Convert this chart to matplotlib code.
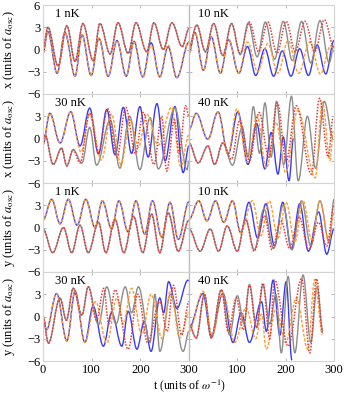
import matplotlib
matplotlib.use('Agg')
import matplotlib.pyplot as plt
from matplotlib.path import Path
from matplotlib.patches import PathPatch

plt.rcParams['font.family'] = ['Liberation Serif', 'DejaVu Serif']
plt.rcParams['mathtext.fontset'] = 'stix'

# extrema: (t, value) pairs, one list per trace
# --- x, 1 nK
x1_red = [(0, 0), (10, 3.0), (31, -2.2), (49, 3.2), (66, -1.6), (82, 3.5), (103, -1.5), (117, 3.5), (138, -0.6),
          (154, 3.6), (175, -0.5), (191, 3.6), (213, -0.3), (228, 3.6), (247, 0.0), (265, 3.6), (286, 0.4), (300, 2.8)]
x1_gray = x1_red
x1_orange = [(0, -0.5), (10, 2.4), (29, -3.2), (45, 2.3), (66, -3.6), (80, 2.0), (99, -3.5), (115, 1.5), (134, -3.6),
             (152, 1.2), (171, -3.6), (187, 1.0), (205, -3.7), (222, 0.5), (240, -3.7), (257, 0.6), (275, -3.8), (300, 1.0)]
x1_blue = [(0, -0.5), (10, 2.4), (29, -3.2), (45, 2.3), (66, -3.6), (80, 2.0), (99, -3.5), (115, 1.5), (134, -3.6),
           (152, 1.2), (171, -3.6), (187, 1.1), (205, -3.7), (222, 0.9), (240, -3.7), (257, 0.4), (275, -3.8), (300, 1.0)]
# --- x, 10 nK
x10_red = [(0, 0.3), (16, 3.3), (34, -0.3), (51, 3.5), (70, -0.8), (88, 3.5), (106, -0.5), (125, 3.7), (144, -0.3),
           (163, 3.7), (182, -0.5), (201, 3.8), (220, -0.3), (240, 3.8), (260, -0.3), (280, 4.0), (300, 0.3)]
x10_gray = [(0, 0.3), (16, 3.3), (34, -0.3), (51, 3.5), (70, -0.8), (88, 3.5), (106, -0.7), (123, 3.6), (141, -1.0),
            (158, 3.7), (177, -1.3), (195, 3.8), (214, -1.5), (233, 3.8), (252, -1.8), (271, 3.9), (290, -1.8), (300, 0.5)]
x10_blue = [(0, -0.5), (12, 2.3), (30, -2.8), (46, 1.7), (65, -3.2), (82, 1.3), (103, -3.2), (121, 0.4), (138, -3.5),
            (157, 0.1), (175, -3.6), (193, -0.2), (211, -3.6), (229, 0.1), (247, -3.5), (265, 0.6), (283, -3.3), (300, 1.2)]
x10_orange = [(0, -0.5), (12, 2.3), (30, -2.8), (46, 1.7), (65, -3.2), (82, 1.3), (103, -3.2), (121, 1.0), (142, -3.0),
              (163, 0.8), (184, -3.2), (205, 1.2), (227, -3.2), (250, 1.0), (272, -3.3), (293, 0.5), (300, -0.5)]
# --- x, 30 nK
x30_blue = [(0, -0.8), (14, 3.4), (35, -0.6), (57, 3.6), (76, -1.0), (96, 4.1), (114, -2.1), (131, 3.9), (148, -2.2),
            (165, 4.2), (182, -2.0), (199, 4.3), (216, -2.5), (234, 4.7), (251, -3.0), (271, 4.3), (288, -4.6), (300, -1.0)]
x30_orange = [(0, -0.8), (14, 3.4), (35, -0.6), (57, 3.6), (78, -1.8), (96, 3.4), (120, -2.9), (141, 3.3), (160, -3.5),
              (180, 2.5), (196, -1.2), (213, 3.3), (237, -0.9), (264, 4.2), (283, -3.8), (300, 0.5)]
x30_red = [(0, -0.5), (4, 0.5), (21, -3.5), (38, -1.3), (49, -3.7), (62, -1.5), (76, -3.3), (96, 3.4), (114, -1.9),
           (133, 4.0), (152, -2.5), (170, 4.2), (190, -2.0), (206, 3.5), (228, -3.5), (244, 3.0), (254, -4.4), (270, 2.5),
           (280, -2.0), (293, 4.4), (300, 3.0)]
x30_gray = [(0, -0.5), (4, 0.5), (21, -3.5), (38, -1.3), (49, -3.7), (62, -1.5), (80, -3.3), (96, 1.5), (110, -3.6),
            (138, 2.5), (158, -4.0), (178, 3.0), (199, -4.2), (220, 2.8), (237, -4.1), (271, 4.1), (296, -4.2), (300, -3.0)]
# --- x, 40 nK
x40_blue = [(0, 1.2), (15, 3.4), (39, -0.1), (60, 3.6), (81, -2.1), (101, 3.6), (122, -3.5), (140, 2.0), (157, -4.1),
            (170, 0.8), (184, -4.8), (195, 0.2), (207, -5.7), (216, 0.0)]
x40_orange = [(0, 1.2), (15, 3.4), (39, -0.1), (60, 3.6), (81, -2.1), (99, 4.0), (121, -3.2), (141, 3.0), (160, -4.0),
              (180, 2.2), (200, -4.6), (225, 3.8), (261, -5.3), (276, 4.9), (292, -3.0), (298, 1.0)]
x40_red = [(0, -0.6), (19, -3.3), (39, -1.0), (53, -3.5), (70, -0.6), (88, -2.8), (105, 2.5), (125, -3.0), (145, 3.5),
           (165, -2.5), (183, 4.8), (201, -3.0), (222, 4.4), (253, -4.8), (270, 5.4), (288, -2.5), (298, 2.8)]
x40_gray = [(0, -0.6), (19, -3.3), (39, -1.0), (53, -3.5), (70, -0.6), (90, -3.6), (110, 1.5), (122, -2.5), (133, 4.3),
            (146, -2.0), (157, 4.8), (170, -2.5), (181, 5.0), (196, -3.5), (212, 5.7), (226, -5.7), (245, 3.0), (262, -4.0),
            (280, 5.0), (298, 0.0)]
# --- y, 1 nK
y1_blue = [(0, 1.0), (18, 3.8), (35, 0.5), (52, 3.8), (70, 0.3), (88, 3.8), (107, 0.0), (122, 3.6), (141, -0.2),
           (156, 3.6), (175, -0.6), (191, 3.6), (209, -0.9), (225, 3.6), (244, -1.3), (261, 3.4), (278, -1.6), (300, 3.5)]
y1_orange = y1_blue
y1_red = [(0, -0.2), (20, -3.4), (42, 0.0), (59, -3.4), (76, 0.3), (93, -3.4), (114, 0.7), (129, -3.4), (148, 1.1),
          (166, -3.4), (186, 1.5), (205, -3.4), (223, 1.8), (240, -3.4), (257, 2.0), (278, -3.2), (300, 1.0)]
y1_gray = y1_red
# --- y, 10 nK
y10_blue = [(0, 1.1), (20, 3.6), (37, 0.9), (55, 3.6), (72, 0.7), (90, 3.6), (107, -0.7), (124, 3.4), (142, -1.4),
            (159, 3.2), (177, -2.5), (194, 3.4), (212, -2.9), (229, 3.2), (247, -3.2), (268, 2.1), (285, -3.6), (300, -0.2)]
y10_orange = [(0, 1.1), (20, 3.6), (37, 0.9), (55, 3.6), (72, 0.7), (90, 3.6), (107, -0.7), (131, 3.6), (149, -1.1),
              (166, 3.6), (184, -1.4), (201, 3.4), (219, -2.0), (236, 3.6), (254, -1.6), (271, 3.6), (289, -1.8), (300, 2.0)]
y10_red = [(0, -0.2), (23, -3.2), (44, -0.2), (61, -3.2), (79, 0.2), (100, -3.2), (117, 1.1), (135, -3.2), (156, 1.6),
           (172, -3.0), (190, 1.0), (208, -2.8), (228, 1.4), (248, -3.0), (268, 0.7), (285, -2.5), (300, 2.9)]
y10_gray = [(0, -0.2), (23, -3.2), (44, -0.2), (61, -3.2), (79, 0.2), (100, -3.2), (117, 1.1), (135, -3.0), (155, 2.5),
            (175, -2.8), (195, 3.0), (213, -3.0), (233, 3.6), (252, -2.5), (271, 3.6), (290, -2.0), (300, 3.8)]
# --- y, 30 nK
y30_blue = [(0, 0.0), (7, -1.8), (28, 3.1), (49, -3.3), (66, 3.4), (86, -3.5), (103, 1.4), (124, -4.0), (141, 0.5),
            (162, -4.0), (175, 0.7), (193, -4.4), (208, -0.7), (222, -4.7), (240, 2.5), (248, 0.5), (258, 4.7), (275, 1.1),
            (298, 4.9), (300, 4.8)]
y30_orange = [(0, 0.0), (7, -1.8), (28, 3.1), (49, -3.3), (66, 3.4), (86, -3.5), (108, 2.0), (131, -3.6), (152, 2.5),
              (165, -1.0), (182, 3.8), (203, -2.5), (222, 3.0), (245, -3.0), (262, 3.5), (281, -2.9), (300, 0.5)]
y30_red = [(0, 0.0), (11, -3.6), (35, 2.5), (48, -0.5), (62, 3.8), (80, 0.2), (93, 4.0), (110, -0.5), (125, 3.8),
           (135, -1.0), (148, 3.6), (175, -4.4), (195, 3.0), (215, -3.5), (240, 2.0), (255, -2.0), (268, 4.2), (285, -2.5),
           (300, 2.0)]
y30_gray = [(0, 0.0), (11, -3.6), (35, 2.5), (48, -0.5), (62, 3.8), (80, 0.2), (93, 4.0), (114, -1.1), (131, 4.0),
            (150, -1.0), (169, 4.0), (182, 0.5), (196, 4.0), (220, -3.5), (230, 3.0), (240, -4.7), (262, 3.0), (288, -4.7),
            (300, -2.0)]
# --- y, 40 nK
y40_blue = [(0, -1.5), (29, 3.1), (46, -2.7), (70, 3.1), (91, -3.5), (108, 0.5), (125, -3.5), (150, 2.0), (160, -2.0),
            (174, 4.9), (188, -2.5), (201, 4.7), (213, -5.9)]
y40_orange = [(0, -2.0), (29, 3.4), (48, -2.5), (70, 3.2), (95, -3.5), (118, 1.2), (138, -3.0), (150, 0.3), (160, -4.4),
              (180, 1.0), (200, -3.5), (222, 2.5), (246, -4.4), (260, 5.0), (276, -2.4)]
y40_red = [(0, -1.1), (15, -2.9), (32, 3.0), (46, -2.9), (67, 3.6), (81, -2.0), (98, 2.5), (112, -1.8), (125, 4.2),
           (139, -1.5), (153, 4.5), (167, -3.0), (177, 4.9), (205, -4.0), (233, 5.1), (250, -4.9), (264, 5.1), (277, -2.4)]
y40_gray = [(0, -1.1), (15, -2.9), (32, 3.0), (46, -2.9), (67, 3.6), (84, -2.5), (100, 2.8), (114, -1.0), (125, 4.3),
            (140, -1.5), (153, 4.3), (167, -1.0), (180, 3.0), (191, -4.9), (205, 5.4), (219, -4.9), (236, 5.6), (252, -3.5),
            (265, 4.0), (277, -2.0)]

temps = ['1 nK', '10 nK', '30 nK', '40 nK']
panels = [
    [(x1_blue, x1_gray, x1_orange, x1_red), (x10_blue, x10_gray, x10_orange, x10_red)],
    [(x30_blue, x30_gray, x30_orange, x30_red), (x40_blue, x40_gray, x40_orange, x40_red)],
    [(y1_blue, y1_gray, y1_orange, y1_red), (y10_blue, y10_gray, y10_orange, y10_red)],
    [(y30_blue, y30_gray, y30_orange, y30_red), (y40_blue, y40_gray, y40_orange, y40_red)],
]
row_var = ['x', 'x', 'y', 'y']

styles = [dict(color='#3b3bf5', lw=1.0, ls='-'),
          dict(color='#8c8c8c', lw=1.0, ls='-'),
          dict(color='#ff9a2e', lw=1.0, ls=(0, (2.2, 1.2))),
          dict(color='#ec3535', lw=1.1, ls=(0, (1, 1)))]


def wave(ax, pts, **kw):
    # smooth curve through the read extrema (horizontal tangent at each one)
    verts = [pts[0]]
    codes = [Path.MOVETO]
    for (t0, v0), (t1, v1) in zip(pts[:-1], pts[1:]):
        dt = t1 - t0
        verts += [(t0 + 0.36 * dt, v0), (t1 - 0.36 * dt, v1), (t1, v1)]
        codes += [Path.CURVE4] * 3
    ax.add_patch(PathPatch(Path(verts, codes), fill=False, capstyle='butt',
                           color=kw['color'], lw=kw['lw'], linestyle=kw['ls']))


fig = plt.figure(figsize=(3.54, 3.95), dpi=100)
W, H = 354, 395
col_x = [43, 189]
col_w = [146, 145]
row_top = 5
row_h = 89.0

for r in range(4):
    for c in range(2):
        left = col_x[c] / W
        bottom = 1 - (row_top + (r + 1) * row_h) / H
        ax = fig.add_axes([left, bottom, col_w[c] / W, row_h / H])
        for pts, st in zip(panels[r][c], styles):
            wave(ax, pts, **st)
        ax.set_xlim(0, 300)
        ax.set_ylim(-6, 6)
        ax.set_yticks([-6, -3, 0, 3, 6])
        ax.set_xticks([0, 100, 200, 300])
        ax.tick_params(direction='in', length=2.5, width=0.6, color='#aaaaaa', labelsize=9,
                       top=True, right=True, pad=2)
        for s in ax.spines.values():
            s.set_color('#d4d4d4')
            s.set_linewidth(0.8)
        if c == 0:
            ylab = ['\u22126', '\u22123', '0', '3', '6' if r == 0 else '']
            ax.set_yticklabels(ylab)
            ax.set_ylabel(row_var[r] + r' (units of $a_{\rm osc}$)', fontsize=9)
            ax.yaxis.set_label_coords(-0.18, 0.5)
        else:
            ax.set_yticklabels([])
            ax.spines['left'].set_color('#bdbdbd')
            ax.spines['left'].set_linewidth(1.0)
        if r == 3:
            ax.set_xticklabels(['0', '100', '200', '300'] if c == 0 else ['', '100', '200', '300'])
        else:
            ax.set_xticklabels([])
        ax.text(0.08 if c == 0 else 0.06, 0.97, temps[(r % 2) * 2 + c], transform=ax.transAxes,
                fontsize=9, va='top', ha='left')

fig.text(189 / W, 1 - 394 / H, r't (units of $\omega^{-1}$)', ha='center', va='bottom', fontsize=8.5)

fig.savefig('out.png', dpi=100)
